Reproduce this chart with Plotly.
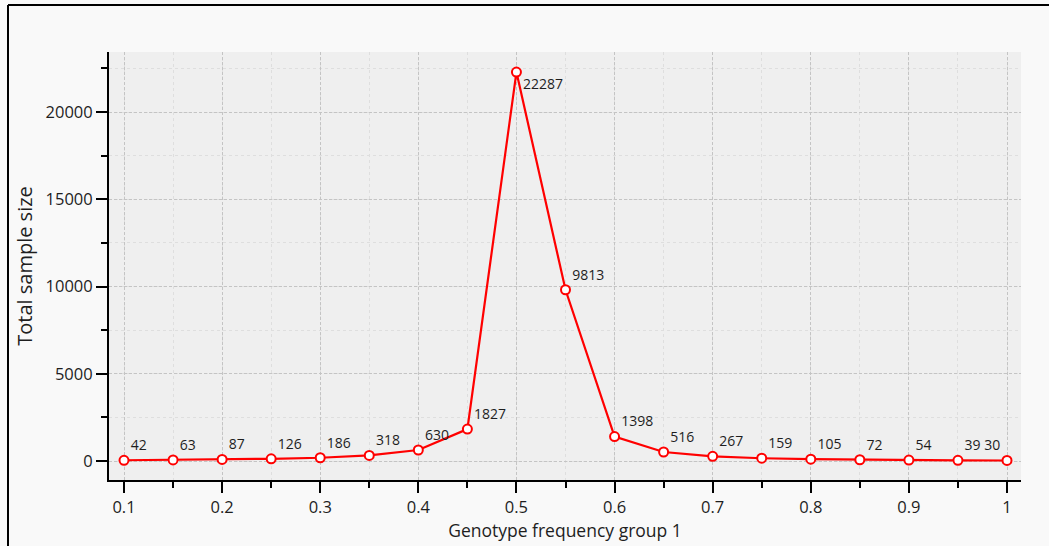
import plotly.graph_objects as go

freq = [0.1, 0.15, 0.2, 0.25, 0.3, 0.35, 0.4, 0.45, 0.5, 0.55, 0.6, 0.65, 0.7, 0.75, 0.8, 0.85, 0.9, 0.95, 1.0]
sizes = [42, 63, 87, 126, 186, 318, 630, 1827, 22287, 9813, 1398, 516, 267, 159, 105, 72, 54, 39, 30]
x_ticks = [0.1, 0.2, 0.3, 0.4, 0.5, 0.6, 0.7, 0.8, 0.9, 1.0]
x_tick_labels = ["0.1", "0.2", "0.3", "0.4", "0.5", "0.6", "0.7", "0.8", "0.9", "1"]
y_ticks = [0, 5000, 10000, 15000, 20000]
y_tick_labels = ["0", "5000", "10000", "15000", "20000"]

positions = ["top right"] * len(freq)
positions[8] = "bottom right"
positions[-1] = "top left"

FONT = "Open Sans"
W, H = 1049, 546
L, R, T, B = 109, 28, 52, 66
pw, ph = W - L - R, H - T - B

fig = go.Figure()
fig.add_trace(go.Scatter(
    x=freq, y=sizes, mode="lines+markers+text",
    text=[str(v) for v in sizes], textposition=positions,
    textfont=dict(family=FONT, size=14, color="#1e1e1e"),
    line=dict(color="#ff0000", width=2.2),
    marker=dict(size=9, color="white", line=dict(color="#ff0000", width=2)),
    cliponaxis=False, showlegend=False,
))

fig.update_layout(
    width=W, height=H,
    margin=dict(l=L, r=R, t=T, b=B, autoexpand=False),
    paper_bgcolor="#f9f9f9", plot_bgcolor="#efefef",
    font=dict(family=FONT, size=16, color="#1e1e1e"),
    xaxis=dict(
        range=[0.1 - 15 / 981, 1 + 14 / 981],
        tickvals=x_ticks, ticktext=x_tick_labels,
        showline=True, linecolor="black", linewidth=2,
        ticks="outside", ticklen=11, tickwidth=2, tickcolor="black",
        showgrid=True, gridcolor="#c4c4c4", griddash="3px,2px", gridwidth=1,
        minor=dict(dtick=0.05, tick0=0.05, ticks="outside", ticklen=6, tickwidth=2, tickcolor="black",
                   showgrid=True, gridcolor="#dedede", griddash="dot", gridwidth=1),
        zeroline=False, automargin=False,
        title=dict(text="Genotype frequency group 1", font=dict(size=17.5), standoff=8),
        tickfont=dict(size=16.5),
    ),
    yaxis=dict(
        range=[-19 / 87.25 * 5000, 409 / 87.25 * 5000],
        tickvals=y_ticks, ticktext=y_tick_labels,
        showline=True, linecolor="black", linewidth=2,
        ticks="outside", ticklen=11, tickwidth=2, tickcolor="black",
        showgrid=True, gridcolor="#c4c4c4", griddash="3px,2px", gridwidth=1,
        minor=dict(dtick=2500, tick0=0, ticks="outside", ticklen=6, tickwidth=2, tickcolor="black",
                   showgrid=True, gridcolor="#dedede", griddash="dot", gridwidth=1),
        zeroline=False, automargin=False,
        title=dict(text="Total sample size", font=dict(size=20), standoff=8),
        tickfont=dict(size=16.5),
    ),
)

# outer frame lines (top and left)
fig.add_shape(type="line", xref="paper", yref="paper",
              x0=(8 - L) / pw, x1=(W - L) / pw, y0=1 + (T - 5) / ph, y1=1 + (T - 5) / ph,
              line=dict(color="black", width=2))
fig.add_shape(type="line", xref="paper", yref="paper",
              x0=(8 - L) / pw, x1=(8 - L) / pw, y0=1 + (T - 5) / ph, y1=-(B) / ph,
              line=dict(color="black", width=2))

fig.write_html("out.html")
